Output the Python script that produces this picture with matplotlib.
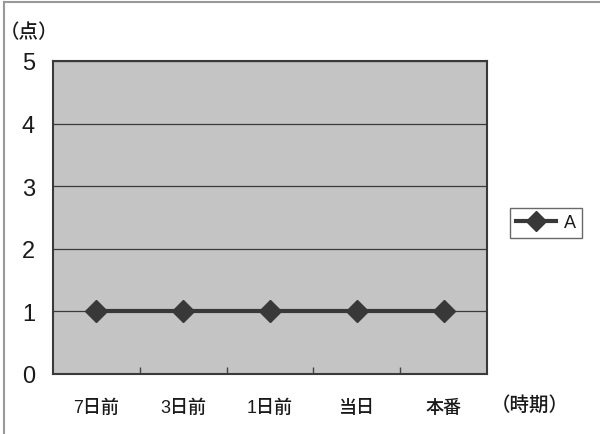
import matplotlib.pyplot as plt
from matplotlib.lines import Line2D

plt.rcParams['font.family'] = ['Liberation Sans', 'Noto Sans CJK JP', 'DejaVu Sans']

periods = ['7日前', '3日前', '1日前', '当日', '本番']
scores_a = [1, 1, 1, 1, 1]
y_ticks = [0, 1, 2, 3, 4, 5]

W, H = 600, 435
fig = plt.figure(figsize=(W / 100, H / 100), dpi=100)
fig.patch.set_facecolor('white')

# plot area in pixel coordinates
left, right, top, bottom = 53, 487, 62, 375
ax = fig.add_axes([left / W, 1 - bottom / H, (right - left) / W, (bottom - top) / H])
ax.set_facecolor('#c4c4c4')

x = list(range(len(periods)))
ax.plot(x, scores_a, color='#383838', lw=3, marker='D', markersize=11,
        markerfacecolor='#383838', markeredgecolor='#383838', zorder=3)

ax.set_xlim(-0.5, len(periods) - 0.5)
ax.set_ylim(0, 5)
ax.set_yticks(y_ticks)
ax.yaxis.grid(True, color='#3a3a3a', lw=0.9)
ax.set_axisbelow(True)
ax.tick_params(axis='y', length=0, labelsize=17, pad=13, colors='#1a1a1a')

# category labels sit between the minor ticks
ax.set_xticks(x)
ax.set_xticklabels(periods)
ax.tick_params(axis='x', length=0, labelsize=13, pad=18, colors='#1a1a1a')
for lbl in ax.get_xticklabels():
    lbl.set_fontweight('medium')
ax.set_xticks([i + 0.5 for i in x[:-1]], minor=True)
ax.tick_params(axis='x', which='minor', direction='in', length=5, color='#444444', width=1)

for s in ax.spines.values():
    s.set_color('#3a3a3a')
    s.set_linewidth(1.5)

fig.text(29 / W, 1 - 33 / H, '（点）', fontsize=14, ha='center', va='center',
         color='#1a1a1a', fontweight='medium')
fig.text(530 / W, 1 - 405 / H, '（時期）', fontsize=14, ha='center', va='center',
         color='#1a1a1a', fontweight='medium')

handle = Line2D([], [], color='#383838', lw=3, marker='D', markersize=10,
                markerfacecolor='#383838', markeredgecolor='#383838')
leg = fig.legend([handle], ['A'], loc='center', bbox_to_anchor=(546 / W, 1 - 224 / H),
                 frameon=True, fancybox=False, edgecolor='#444444', fontsize=13,
                 handlelength=2.2, borderpad=0.35, handletextpad=0.45)
leg.get_frame().set_linewidth(1.0)
for t in leg.get_texts():
    t.set_color('#1a1a1a')

# page frame lines along top and left edges
fig.add_artist(Line2D([4 / W, 4 / W], [0, 1 - 3 / H], color='#999999', lw=1.5))
fig.add_artist(Line2D([4 / W, 1], [1 - 3 / H, 1 - 3 / H], color='#999999', lw=1.5))

fig.savefig('out.png', dpi=100)
